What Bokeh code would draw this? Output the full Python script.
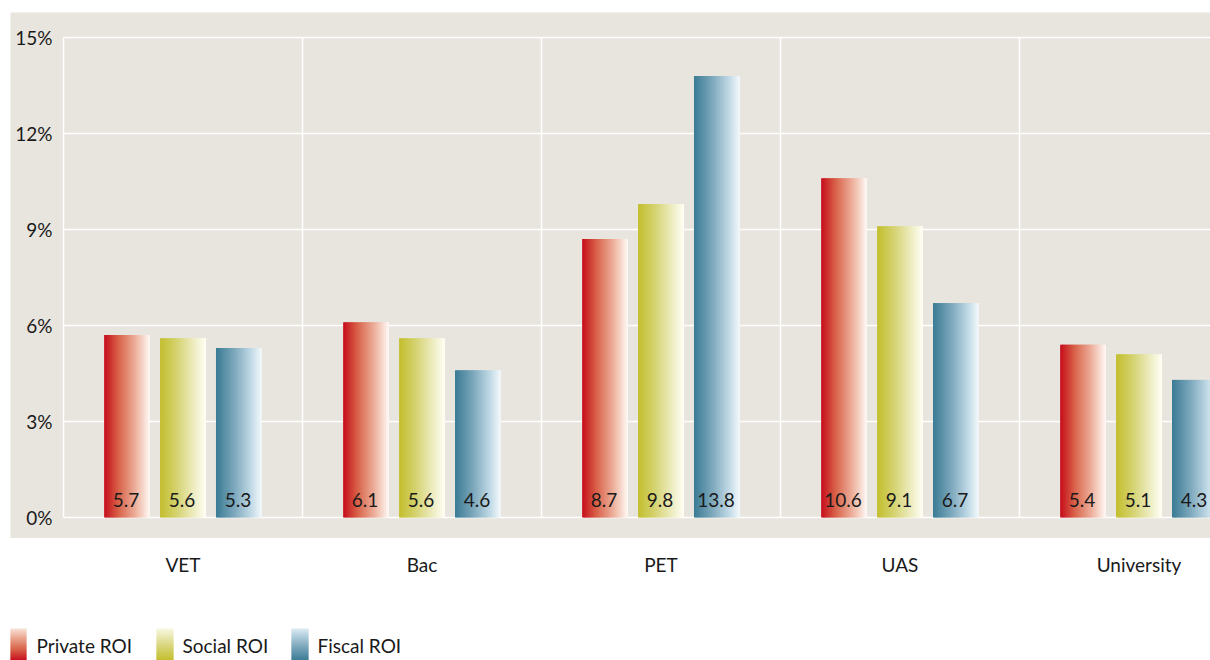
import numpy as np
from bokeh.plotting import figure
from bokeh.models import Range1d, FixedTicker, ColumnDataSource, CustomJSTickFormatter
from bokeh.layouts import column
from bokeh.embed import file_html
from bokeh.resources import INLINE
from bokeh.core.properties import value

# ---------------- data ----------------
categories = ["VET", "Bac", "PET", "UAS", "University"]
series_names = ["Private ROI", "Social ROI", "Fiscal ROI"]
private_roi = [5.7, 6.1, 8.7, 10.6, 5.4]
social_roi = [5.6, 5.6, 9.8, 9.1, 5.1]
fiscal_roi = [5.3, 4.6, 13.8, 6.7, 4.3]
y_ticks = [0, 3, 6, 9, 12, 15]
y_tick_labels = ["0%", "3%", "6%", "9%", "12%", "15%"]

# ---------------- styles ----------------
BEIGE = "#e8e5df"
TEXT = "#1a1a1a"
FONT = "Lato"
gradients = [
    [(0.0, (198, 12, 28)), (0.3, (215, 95, 70)), (0.7, (238, 180, 160)), (1.0, (255, 250, 247))],
    [(0.0, (195, 190, 45)), (0.4, (215, 213, 120)), (0.75, (238, 237, 195)), (1.0, (255, 255, 246))],
    [(0.0, (58, 123, 148)), (0.4, (125, 168, 188)), (0.75, (190, 215, 228)), (1.0, (244, 249, 252))],
]


def grad_color(stops, t):
    for (p0, c0), (p1, c1) in zip(stops[:-1], stops[1:]):
        if p0 <= t <= p1:
            f = (t - p0) / (p1 - p0)
            r, g, b = (int(round(a + (bb - a) * f)) for a, bb in zip(c0, c1))
            return "#%02x%02x%02x" % (r, g, b)
    r, g, b = stops[-1][1]
    return "#%02x%02x%02x" % (r, g, b)


# ---------------- layout ----------------
W = 1210
BORDER_L = 10          # white margin left of the beige panel
BORDER_T = 12          # white margin above the beige panel
AXIS_GAP = 53          # beige strip holding the y labels (left of category 0)
PX_CAT = 239.0
PX_PCT = 32.0
FRAME_H = 526
ZERO_FROM_TOP = 505
BAR_W = 0.192
BAR_STEP = 0.234
N_STRIPS = 30

x_range = Range1d(-AXIS_GAP / PX_CAT, (W - BORDER_L - AXIS_GAP) / PX_CAT)

p = figure(width=W, height=BORDER_T + FRAME_H, output_backend="svg", toolbar_location=None,
           x_range=x_range,
           y_range=Range1d(-(FRAME_H - ZERO_FROM_TOP) / PX_PCT, ZERO_FROM_TOP / PX_PCT),
           min_border_left=BORDER_L, min_border_right=0, min_border_top=BORDER_T, min_border_bottom=0,
           x_axis_location=None, y_axis_location=None)
p.background_fill_color = BEIGE
p.border_fill_color = "white"
p.outline_line_color = None
p.grid.visible = False

n = len(categories)
# horizontal grid lines (from the first category boundary to the right edge)
p.segment(x0=[0] * len(y_ticks), x1=[n] * len(y_ticks), y0=y_ticks, y1=y_ticks,
          line_color="white", line_width=1.5)
# vertical separators between categories
bounds = list(range(n))
p.segment(x0=bounds, x1=bounds, y0=[min(y_ticks)] * n, y1=[max(y_ticks)] * n,
          line_color="white", line_width=1.5)
# y tick labels
p.text(x=[0] * len(y_ticks), y=y_ticks, text=y_tick_labels, x_offset=-11,
       text_align="right", text_baseline="middle",
       text_font=value(FONT), text_font_size="19px", text_color=TEXT)

# gradient bars
all_series = [private_roi, social_roi, fiscal_roi]
for j, vals in enumerate(all_series):
    lefts, rights, tops, colors = [], [], [], []
    for i, v in enumerate(vals):
        center = i + 0.5 + (j - 1) * BAR_STEP
        l0 = center - BAR_W / 2
        sw = BAR_W / N_STRIPS
        for k in range(N_STRIPS):
            t = (k + 0.5) / N_STRIPS
            lefts.append(l0 + k * sw)
            rights.append(min(l0 + (k + 1.7) * sw, l0 + BAR_W))
            tops.append(v)
            colors.append(grad_color(gradients[j], t))
    src = ColumnDataSource(dict(left=lefts, right=rights, top=tops, bottom=[0] * len(tops), color=colors))
    p.quad(left="left", right="right", top="top", bottom="bottom", fill_color="color",
           line_color=None, source=src)
    centers = [i + 0.5 + (j - 1) * BAR_STEP for i in range(len(vals))]
    p.text(x=centers, y=[0] * len(vals), text=["%.1f" % v for v in vals],
           text_align="center", text_baseline="middle", y_offset=-18, x_offset=-1,
           text_font=value(FONT), text_font_size="19px", text_color=TEXT)

# ---------------- lower figure: category labels + legend ----------------
H2 = 122
TOP2 = 49
p2 = figure(width=W, height=H2, output_backend="svg", toolbar_location=None,
            x_range=x_range,
            y_range=Range1d(H2 - TOP2, 0),
            min_border_left=BORDER_L, min_border_right=0, min_border_top=TOP2, min_border_bottom=0,
            x_axis_location="above", y_axis_location=None)
p2.background_fill_color = "white"
p2.border_fill_color = "white"
p2.outline_line_color = None
p2.grid.visible = False
xax = p2.xaxis[0]
xax.ticker = FixedTicker(ticks=[i + 0.5 for i in range(n)])
xax.formatter = CustomJSTickFormatter(args=dict(cats=categories),
                                      code="const i = Math.floor(tick); return (i >= 0 && i < cats.length) ? cats[i] : '';")
xax.axis_line_color = None
xax.major_tick_line_color = None
xax.minor_tick_line_color = None
xax.major_label_standoff = 6
xax.major_label_text_font = FONT
xax.major_label_text_font_size = "19px"
xax.major_label_text_color = TEXT

p2.extra_x_ranges = {"px": Range1d(0, W - BORDER_L)}
swatch_x = [-1, 146, 281]
text_x = [26, 172, 307]
SW_W = 17
SW_TOP, SW_BOT = 41, 73
LEG_Y = 58
N_V = 16
for j, name in enumerate(series_names):
    ys0, ys1, cols = [], [], []
    h = (SW_BOT - SW_TOP) / N_V
    for k in range(N_V):
        t = 1 - (k + 0.5) / N_V
        ys0.append(SW_TOP + k * h)
        ys1.append(min(SW_TOP + (k + 1.6) * h, SW_BOT))
        cols.append(grad_color(gradients[j], t * 0.9))
    p2.quad(left=[swatch_x[j]] * N_V, right=[swatch_x[j] + SW_W] * N_V, top=ys0, bottom=ys1,
            fill_color=cols, line_color=None, x_range_name="px")
p2.text(x=text_x, y=[LEG_Y] * 3, text=series_names, text_align="left", text_baseline="middle",
        text_font=value(FONT), text_font_size="19px", text_color=TEXT, x_range_name="px")

layout = column(p, p2, spacing=0)
open("out.html", "w").write(file_html(layout, INLINE))
